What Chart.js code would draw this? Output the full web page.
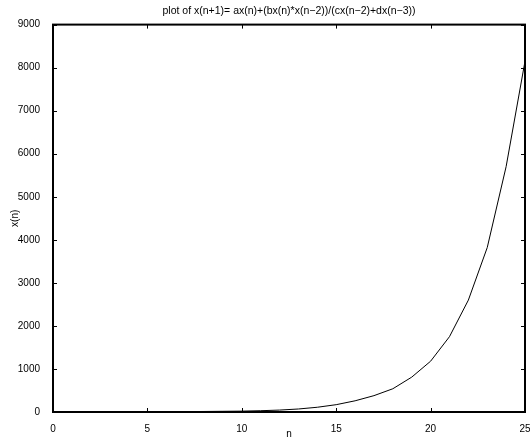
<!DOCTYPE html>
<html>
<head>
<meta charset="utf-8">
<script src="https://cdn.jsdelivr.net/npm/chart.js@4"></script>
<style>
  body { margin: 0; background: #fff; }
  #wrap { width: 530px; height: 440px; }
</style>
</head>
<body>
<div id="wrap"><canvas id="seqChart"></canvas></div>
<script>
const ctx = document.getElementById("seqChart");

// values (n = 0..25)
const nValues = [0, 1, 2, 3, 4, 5, 6, 7, 8, 9, 10, 11, 12, 13, 14, 15, 16, 17, 18, 19, 20, 21, 22, 23, 24, 25];
const xValues = [1, 1, 2, 3, 4, 5, 7, 9, 12, 16, 20, 30, 45, 70, 110, 170, 260, 380, 540, 810, 1180, 1750, 2600, 3820, 5700, 8150];
const xTicks = [0, 5, 10, 15, 20, 25];
const yTicks = [0, 1000, 2000, 3000, 4000, 5000, 6000, 7000, 8000, 9000];

const FONT = "'Liberation Sans', Arial, sans-serif";

// matlab style box with inward ticks on all four sides
const boxPlugin = {
  id: "box",
  afterDraw(chart) {
    const { ctx, chartArea: a, scales } = chart;
    ctx.save();
    ctx.strokeStyle = "#000";
    ctx.lineWidth = 1;
    const len = 4;
    xTicks.forEach((t) => {
      const px = Math.round(scales.x.getPixelForValue(t)) + 0.5;
      ctx.beginPath();
      ctx.moveTo(px, a.bottom);
      ctx.lineTo(px, a.bottom - len);
      ctx.moveTo(px, a.top);
      ctx.lineTo(px, a.top + len);
      ctx.stroke();
    });
    yTicks.forEach((t) => {
      const py = Math.round(scales.y.getPixelForValue(t)) + 0.5;
      ctx.beginPath();
      ctx.moveTo(a.left, py);
      ctx.lineTo(a.left + len, py);
      ctx.moveTo(a.right, py);
      ctx.lineTo(a.right - len, py);
      ctx.stroke();
    });
    ctx.lineWidth = 2;
    ctx.strokeRect(a.left, a.top, a.right - a.left, a.bottom - a.top);
    ctx.restore();
  },
};

new Chart(ctx, {
  type: "line",
  data: {
    datasets: [
      {
        data: nValues.map((n, i) => ({ x: n, y: xValues[i] })),
        borderColor: "#000",
        borderWidth: 1,
        pointRadius: 0,
        tension: 0,
      },
    ],
  },
  options: {
    responsive: true,
    maintainAspectRatio: false,
    animation: false,
    layout: { padding: { top: 0, right: 5, left: 0, bottom: 0 } },
    plugins: {
      legend: { display: false },
      tooltip: { enabled: false },
      title: {
        display: true,
        fullSize: false,
        text: "plot of x(n+1)= ax(n)+(bx(n)*x(n\u22122))/(cx(n\u22122)+dx(n\u22123))",
        color: "#000",
        font: { family: FONT, size: 10.5, weight: "normal" },
        padding: { top: 5, bottom: 7 },
      },
    },
    scales: {
      x: {
        type: "linear",
        min: 0,
        max: 25,
        afterBuildTicks: (s) => { s.ticks = xTicks.map((v) => ({ value: v })); },
        afterFit: (s) => { s.height = 28; s.paddingRight = 0; s.paddingLeft = 0; },
        grid: { display: false },
        border: { display: false },
        ticks: { color: "#000", font: { family: FONT, size: 10 }, padding: 3, maxRotation: 0, callback: (v) => String(v) },
        title: { display: true, text: "n", color: "#000", font: { family: FONT, size: 10 }, padding: 0 },
      },
      y: {
        type: "linear",
        min: 0,
        max: 9000,
        afterBuildTicks: (s) => { s.ticks = yTicks.map((v) => ({ value: v })); },
        afterFit: (s) => { s.width = 53; s.paddingTop = 0; s.paddingBottom = 0; },
        grid: { display: false },
        border: { display: false },
        ticks: { color: "#000", font: { family: FONT, size: 10 }, padding: 5, callback: (v) => String(v) },
        title: { display: true, text: "x(n)", color: "#000", font: { family: FONT, size: 10 }, padding: 9 },
      },
    },
  },
  plugins: [boxPlugin],
});
</script>
</body>
</html>
